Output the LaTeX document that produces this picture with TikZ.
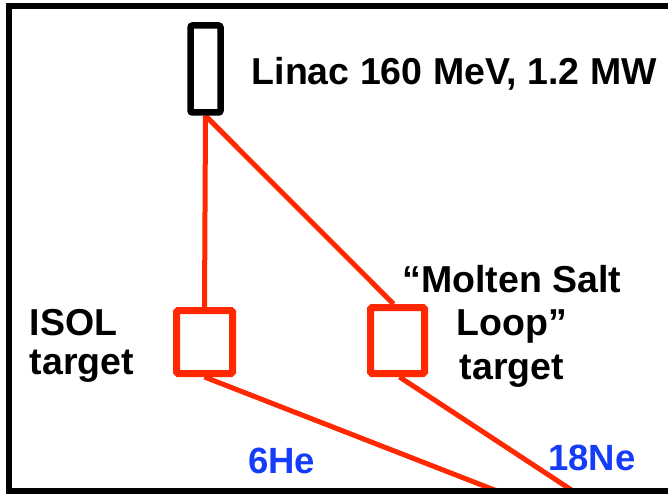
\documentclass[tikz,border=0pt]{standalone}
\usepackage{fontspec}
\setmainfont{Liberation Sans}
\definecolor{beamred}{RGB}{255,40,0}
\definecolor{ionblue}{RGB}{20,60,250}
\pgfdeclarelayer{bg}
\pgfsetlayers{bg,main}
\begin{document}
\begin{tikzpicture}[x=1pt,y=-1pt,
  lbl/.style={font=\fontsize{37.5}{43}\selectfont\bfseries, inner sep=0pt, anchor=base west},
  clbl/.style={font=\fontsize{37.5}{43}\selectfont\bfseries, inner sep=0pt, anchor=base},
  ion/.style={font=\fontsize{36.5}{43}\selectfont\bfseries, inner sep=0pt, anchor=base west, text=ionblue},
  beam/.style={draw=beamred, line width=5pt},
  tgt/.style={draw=beamred, line width=7pt, fill=white, rounded corners=1.5pt, inner sep=0pt},
  linacbox/.style={draw=black, line width=6.5pt, fill=white, rounded corners=2pt, inner sep=0pt, minimum width=30pt, minimum height=87pt}
]
\useasboundingbox (0,0) rectangle (668,494);
\node[linacbox] (linac) at (205.5,69) {};
\node[tgt, minimum width=56pt, minimum height=63pt] (isol) at (204.5,342) {};
\node[tgt, minimum width=54pt, minimum height=66pt] (msl) at (397.5,340.5) {};
\coordinate (e1) at (497,491);
\coordinate (e2) at (573,491);
\begin{pgfonlayer}{bg}
\draw[beam] (linac.south) -- (isol.north);
\draw[beam] (linac.south) -- ([xshift=-4pt]msl.north);
\draw[beam] (isol.south) -- (e1);
\draw[beam] ([xshift=2pt]msl.south) -- (e2);
\end{pgfonlayer}
% frame
\draw[line width=6pt, line join=miter] (670,6) -- (9,6) -- (9,490.5) -- (670,490.5);
% texts
\node[lbl] (tlinac) at (251.5,85) {Linac 160 MeV, 1.2 MW};
\node[lbl] (tisol1) at (29.5,335) {ISOL};
\node[lbl] (tisol2) at (29.5,374) {target};
\node[clbl] (tmsl1) at (512,292) {“Molten Salt};
\node[clbl] (tmsl2) at (512,335) {Loop”};
\node[clbl] (tmsl3) at (512,379) {target};
\node[ion] (the) at (248,473) {6He};
\node[ion] (tne) at (548,470) {18Ne};
\end{tikzpicture}
\end{document}
